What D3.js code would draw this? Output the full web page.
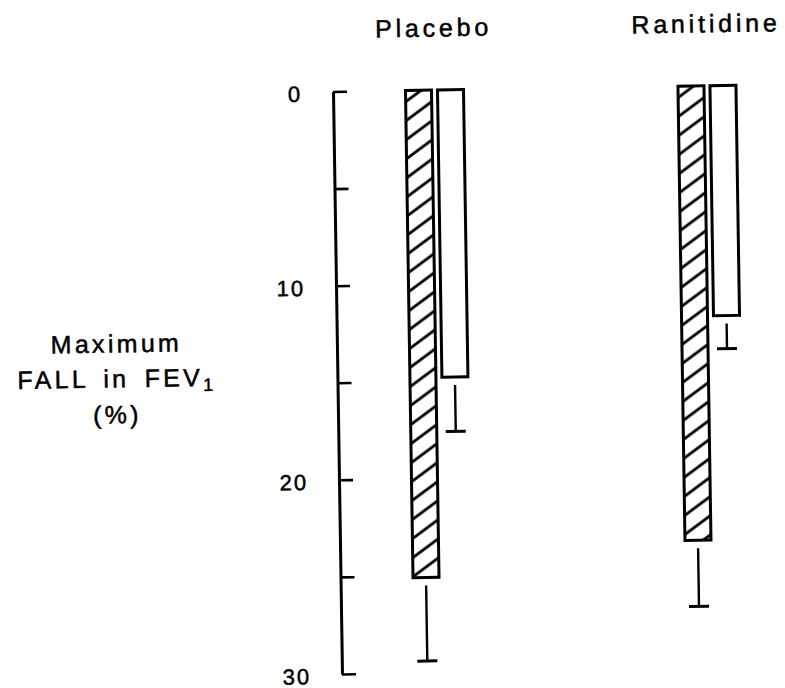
<!DOCTYPE html>
<html>
<head>
<meta charset="utf-8">
<script src="https://cdn.jsdelivr.net/npm/d3@7"></script>
<style>
  html, body { margin: 0; padding: 0; background: #fff; }
  svg { display: block; }
  text { font-family: "Liberation Sans", Arial, Helvetica, sans-serif; fill: #000; stroke: #000; stroke-width: 0.5; }
</style>
</head>
<body>
<svg id="chart" width="785" height="688"></svg>
<script>
// Treatment groups and the two bars drawn in each group
const groups = ["Placebo", "Ranitidine"];
const seriesKeys = ["A", "B"];

// Mean maximum fall in FEV1 (%) and its error, one entry per group
const seriesAValues = [25.1, 23.4];
const seriesAErrors = [4.3, 3.4];
const seriesBValues = [14.8, 11.85];
const seriesBErrors = [2.8, 1.7];

// Axis ticks and their labels
const yTicks = [0, 5, 10, 15, 20, 25, 30];
const yTickLabels = ["0", "", "10", "", "20", "", "30"];

const svg = d3.select("#chart");

// plot frame
const axisX = 337.5;
const plotTop = 91.5, plotBottom = 674;

const y = d3.scaleLinear().domain([0, 30]).range([plotTop, plotBottom]);
const x0 = d3.scaleBand().domain(groups).range([302.75, 847.75]);
const x1 = d3.scaleBand().domain(seriesKeys).range([-29, 29]).paddingInner(6 / 32);

const rows = groups.map((g, i) => ({
  group: g,
  bars: [
    { key: "A", value: seriesAValues[i], err: seriesAErrors[i] },
    { key: "B", value: seriesBValues[i], err: seriesBErrors[i] }
  ]
}));

// diagonal "/" hatching: one stripe per tile, 19px vertical period
const tileH = 19, slope = 0.72, tileW = tileH / slope;
const defs = svg.append("defs");
const hatch = defs.append("pattern")
  .attr("id", "hatch")
  .attr("patternUnits", "userSpaceOnUse")
  .attr("x", 0).attr("y", 6)
  .attr("width", tileW)
  .attr("height", tileH);
hatch.append("rect").attr("width", tileW).attr("height", tileH).attr("fill", "#fff");
hatch.append("path")
  .attr("d", `M0,${tileH} L${tileW},0 M-3,${3 * slope} L3,${-3 * slope} M${tileW - 3},${tileH + 3 * slope} L${tileW + 3},${tileH - 3 * slope}`)
  .attr("stroke", "#000").attr("stroke-width", 2.8).attr("fill", "none");

// whole figure sits very slightly turned
const root = svg.append("g")
  .attr("transform", `rotate(-0.886 ${axisX} 383)`);

// y axis: bracket style, ticks pointing into the plot
const yAxis = d3.axisLeft(y)
  .tickValues(yTicks)
  .tickSizeInner(-14)
  .tickSizeOuter(0)
  .tickPadding(31)
  .tickFormat((d, i) => yTickLabels[i]);

const gy = root.append("g")
  .attr("transform", `translate(${axisX},0)`)
  .call(yAxis);
gy.select(".domain").attr("stroke", "#000").attr("stroke-width", 3);
gy.selectAll(".tick line").attr("stroke", "#000").attr("stroke-width", 2.6);
gy.selectAll(".tick text")
  .attr("font-family", "\"Liberation Sans\", Arial, sans-serif")
  .attr("font-size", 22)
  .attr("letter-spacing", 2)
  .attr("dy", "0.42em")
  .attr("fill", "#000");

// y axis title
const title = root.append("text")
  .attr("text-anchor", "middle")
  .attr("font-size", 25)
  .attr("letter-spacing", 3.3)
  .attr("word-spacing", 5);
title.append("tspan").attr("x", 117).attr("y", 349).text("Maximum");
const line2 = title.append("tspan").attr("x", 117).attr("y", 384);
line2.append("tspan").text("FALL in FEV");
line2.append("tspan").attr("font-size", 18).attr("dy", 5).text("1");
title.append("tspan").attr("x", 117).attr("y", 420).text("(%)");

// group labels
root.selectAll("text.group-label")
  .data(groups)
  .join("text")
  .attr("class", "group-label")
  .attr("x", d => x0(d) + x0.bandwidth() / 2)
  .attr("y", 38)
  .attr("text-anchor", "middle")
  .attr("font-size", 25)
  .attr("letter-spacing", 3.8)
  .text(d => d);

// bars with error bars
const gGroups = root.selectAll("g.group")
  .data(rows)
  .join("g")
  .attr("class", "group")
  .attr("transform", d => `translate(${x0(d.group) + x0.bandwidth() / 2},0)`);

gGroups.selectAll("rect.bar")
  .data(d => d.bars)
  .join("rect")
  .attr("class", "bar")
  .attr("x", d => x1(d.key))
  .attr("width", x1.bandwidth())
  .attr("y", y(0))
  .attr("height", d => y(d.value) - y(0))
  .attr("fill", d => d.key === "A" ? "url(#hatch)" : "#fff")
  .attr("stroke", "#000")
  .attr("stroke-width", 3);

const errGap = 8, capHalf = 10;
const eb = gGroups.selectAll("g.err")
  .data(d => d.bars)
  .join("g")
  .attr("class", "err")
  .attr("transform", d => `translate(${x1(d.key) + x1.bandwidth() / 2},0)`);
eb.append("line")
  .attr("x1", 0).attr("x2", 0)
  .attr("y1", d => y(d.value) + errGap)
  .attr("y2", d => y(d.value + d.err))
  .attr("stroke", "#000").attr("stroke-width", 2.4);
eb.append("line")
  .attr("x1", -capHalf).attr("x2", capHalf)
  .attr("y1", d => y(d.value + d.err))
  .attr("y2", d => y(d.value + d.err))
  .attr("stroke", "#000").attr("stroke-width", 3);
</script>
</body>
</html>
